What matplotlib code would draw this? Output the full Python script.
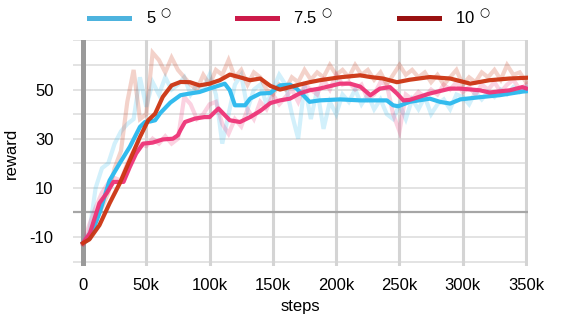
import matplotlib
matplotlib.use("Agg")
import matplotlib.pyplot as plt
from matplotlib.lines import Line2D
import numpy as np

plt.rcParams['font.family'] = ['Liberation Sans', 'DejaVu Sans']

labels = ['5', '7.5', '10']
line_colors = ['#33BBEE', '#EE3377', '#CC3311']
legend_colors = ['#4DB3DE', '#CC1A4A', '#991111']

# smoothed curves (steps in k, reward)
blue_x = [0, 5.5, 13, 21, 29, 37, 45, 49, 53, 57, 61, 69, 77, 84.5, 92, 100, 112, 116, 120, 128, 132, 140, 148,
          155.6, 163.5, 168.5, 174, 179, 187, 203, 219, 227, 240, 245, 249, 258, 274, 282, 290, 298, 313.6, 329, 347.5, 350]
blue_y = [-12.5, -10.5, -0.3, 13, 20, 26.7, 34.8, 36.8, 37, 37.5, 40.4, 44.7, 47.7, 48.4, 49, 50.4, 52.4, 49.7, 43.6, 43.6, 46.3, 48.4, 48.6,
          51.7, 52, 50.5, 47.7, 45, 45.6, 46, 45.6, 45.6, 45.6, 43.6, 43.2, 45, 46.3, 45, 44.3, 46, 46.9, 47.7, 49.2, 49.3]

pink_x = [0, 5.5, 13, 18.7, 24, 32, 37, 42, 47.5, 55, 63, 71, 75, 77, 80.6, 88.5, 96, 100, 107, 112, 116, 124, 132, 140, 148,
          155.6, 163.5, 171, 179, 187, 203, 211, 219, 227, 234.6, 242.5, 248, 253, 258, 274, 290, 298, 313.6, 321, 337, 347, 350]
pink_y = [-12.5, -8.4, 3.8, 7.8, 12.4, 12.4, 18.5, 24, 28, 28.4, 29.7, 30, 31.4, 33.5, 36.8, 38.2, 38.8, 38.8, 42.3, 39.6, 37.5, 36.8, 38.8, 41.3, 44.5,
          45.6, 46.3, 48.4, 49.7, 50.4, 52.4, 52.4, 51.2, 47.7, 50.4, 51, 48.4, 45.6, 45.8, 48.4, 50.4, 50.4, 49.7, 48.8, 49.7, 51, 50.5]

red_x = [0, 5, 13, 21, 29, 37, 45, 51.5, 57, 63, 70, 77, 84.5, 92, 100, 108, 116, 124, 132, 140, 148, 155.6, 163.5, 171, 179,
         187, 203, 219, 227, 237, 248, 258, 274, 290, 306, 321, 337, 350]
red_y = [-12.5, -11, -5.2, 3.7, 11.8, 21.3, 30.7, 37.5, 40.2, 47, 51.7, 53.1, 53, 51.7, 52.4, 53.8, 56.1, 55, 53.8, 54.5, 51.5, 50, 51, 52, 53,
         53.8, 55, 55.8, 55.1, 54.5, 53, 54, 55.1, 54.5, 52.4, 53.8, 54.5, 54.8]

# raw curves, every 5k steps
raw_x = list(range(0, 351, 5))
blue_raw = [-12, -8, 10, 18, 20, 28, 33, 36, 38, 55, 43, 53, 48, 55, 50, 52, 55, 48, 52, 50, 56, 48, 28, 40, 52, 56, 42, 50, 52, 44,
            50, 56, 52, 40, 30, 52, 38, 50, 34, 45, 40, 48, 45, 50, 44, 48, 42, 46, 40, 38, 44, 38, 46, 42, 47, 40, 44, 46, 42, 48,
            47, 44, 49, 46, 49, 47, 50, 48, 51, 49, 51]
pink_raw = [-13, -5, 2, 8, 12, 14, 13, 20, 25, 28, 27, 30, 28, 31, 28, 30, 47, 44, 38, 40, 44, 45, 36, 32, 38, 35, 42, 38, 45, 42,
            48, 44, 47, 50, 45, 52, 50, 48, 54, 50, 56, 52, 53, 50, 52, 46, 48, 53, 52, 40, 33, 48, 46, 49, 47, 50, 48, 52, 50, 53,
            49, 51, 48, 52, 50, 53, 49, 52, 54, 50, 52]
red_raw = [-13, -10, -3, 2, 8, 18, 25, 45, 58, 38, 40, 65, 62, 57, 63, 58, 55, 52, 50, 56, 52, 58, 56, 62, 55, 58, 52, 57, 55, 50,
           48, 52, 50, 55, 53, 58, 54, 57, 55, 60, 56, 58, 55, 60, 56, 58, 54, 57, 52, 56, 60, 56, 58, 55, 57, 53, 56, 52, 55, 58,
           52, 55, 53, 57, 55, 58, 54, 60, 56, 57, 53]

yticks = [-10, 10, 30, 50]
xticks = [0, 50, 100, 150, 200, 250, 300, 350]
xticklabels = ['0', '50k', '100k', '150k', '200k', '250k', '300k', '350k']

fig = plt.figure(figsize=(5.68, 3.17), dpi=100)
ax = fig.add_axes([0.1285, 0.161, 0.801, 0.713])

ax.set_xlim(-7.9, 351.5)
ax.set_ylim(-21.8, 70.2)

for s in ax.spines.values():
    s.set_visible(False)

for v in range(-20, 71, 10):
    if v == 0:
        ax.axhline(v, color='#a6a6a6', lw=1.6, zorder=1)
    else:
        ax.axhline(v, color='#dedede', lw=1.2, zorder=0)
for xv in xticks:
    if xv == 0:
        ax.axvline(xv, color='#9a9a9a', lw=3.6, zorder=1)
    else:
        ax.axvline(xv, color='#d4d4d4', lw=2.2, zorder=0)

raws = [blue_raw, pink_raw, red_raw]
for r, c in zip(raws, line_colors):
    ax.plot(raw_x, r, color=c, lw=3.0, alpha=0.22, zorder=2, solid_joinstyle='miter')

ax.plot(blue_x, blue_y, color=line_colors[0], lw=3.0, zorder=3)
ax.plot(pink_x, pink_y, color=line_colors[1], lw=3.0, zorder=4, alpha=0.95)
ax.plot(red_x, red_y, color=line_colors[2], lw=3.0, zorder=5, alpha=0.95)

ax.set_xticks(xticks)
ax.set_xticklabels(xticklabels)
ax.set_yticks(yticks)
ax.set_yticklabels([str(v) for v in yticks])
ax.tick_params(length=0, labelsize=12, colors='black')
ax.tick_params(axis='y', pad=14)
ax.tick_params(axis='x', pad=9)
ax.set_xlabel('steps', fontsize=12, labelpad=4)
ax.set_ylabel('reward', fontsize=12, labelpad=8)

handles = [Line2D([], [], color=c, lw=3.6) for c in legend_colors]
leg_labels = [l + r'$\ ^{\bigcirc}$' for l in labels]
leg = fig.legend(handles, leg_labels, loc='center left', bbox_to_anchor=(0.13, 0.945), ncol=3, frameon=False,
                 fontsize=12, handlelength=2.4, handletextpad=1.0, columnspacing=3.9)

fig.savefig('out.png', dpi=100)
